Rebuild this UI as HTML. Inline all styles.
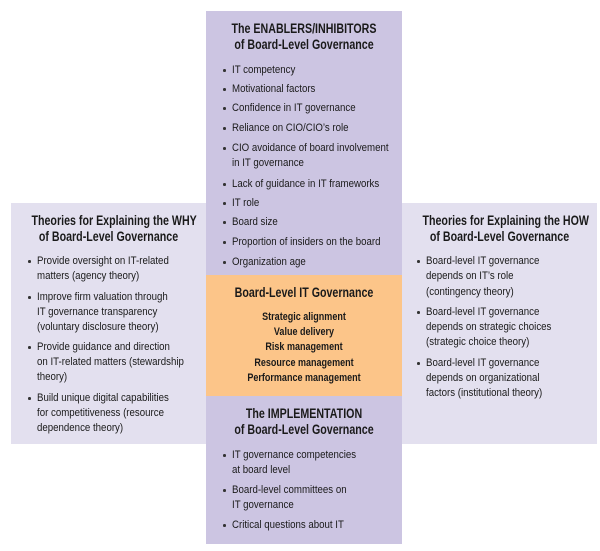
<!DOCTYPE html>
<html><head><meta charset="utf-8"><style>
body{margin:0;width:600px;height:551px;background:#fff;position:relative;overflow:hidden;font-family:"Liberation Sans",sans-serif;color:#1a1a1a}
.b{position:absolute}
.t{position:absolute;white-space:nowrap;font-size:11px;line-height:14px;transform:scaleX(0.88);transform-origin:0 50%}
.c{position:absolute;white-space:nowrap;text-align:center;transform:scaleX(0.82);transform-origin:50% 50%;font-weight:bold}
.h{font-size:13.5px;line-height:16px;transform:scaleX(0.79)}
.o{font-size:11px;line-height:14px}
.d{position:absolute;width:2.5px;height:2.5px;background:#333;border-radius:50%}
</style></head><body>
<div class="b" style="left:206px;top:11px;width:196px;height:265px;background:#ccc5e2"></div>
<div class="b" style="left:206px;top:275px;width:196px;height:121px;background:#fcc589"></div>
<div class="b" style="left:206px;top:396px;width:196px;height:148px;background:#ccc5e2"></div>
<div class="b" style="left:11px;top:203px;width:195px;height:241px;background:#e3e0ef"></div>
<div class="b" style="left:402px;top:203px;width:195px;height:241px;background:#e3e0ef"></div>

<div class="c h" style="left:206px;width:196px;top:21px">The ENABLERS/INHIBITORS</div>
<div class="c h" style="left:206px;width:196px;top:37px">of Board-Level Governance</div>

<div class="c h" style="left:206px;width:196px;top:285px">Board-Level IT Governance</div>
<div class="c o" style="left:206px;width:196px;top:310px">Strategic alignment</div>
<div class="c o" style="left:206px;width:196px;top:325px">Value delivery</div>
<div class="c o" style="left:206px;width:196px;top:340px">Risk management</div>
<div class="c o" style="left:206px;width:196px;top:356px">Resource management</div>
<div class="c o" style="left:206px;width:196px;top:371px">Performance management</div>

<div class="c h" style="left:206px;width:196px;top:406px">The IMPLEMENTATION</div>
<div class="c h" style="left:206px;width:196px;top:422px">of Board-Level Governance</div>

<div class="c h" style="left:11px;width:195px;top:213px">Theories for Explaining the WHY</div>
<div class="c h" style="left:11px;width:195px;top:229px">of Board-Level Governance</div>
<div class="c h" style="left:402px;width:195px;top:213px">Theories for Explaining the HOW</div>
<div class="c h" style="left:402px;width:195px;top:229px">of Board-Level Governance</div>

<div class="d" style="left:223px;top:69px"></div><div class="t" style="left:232px;top:63px">IT competency</div>
<div class="d" style="left:223px;top:88px"></div><div class="t" style="left:232px;top:82px">Motivational factors</div>
<div class="d" style="left:223px;top:107px"></div><div class="t" style="left:232px;top:101px">Confidence in IT governance</div>
<div class="d" style="left:223px;top:127px"></div><div class="t" style="left:232px;top:121px">Reliance on CIO/CIO’s role</div>
<div class="d" style="left:223px;top:147px"></div><div class="t" style="left:232px;top:141px">CIO avoidance of board involvement</div>
<div class="t" style="left:232px;top:156px">in IT governance</div>
<div class="d" style="left:223px;top:183px"></div><div class="t" style="left:232px;top:177px">Lack of guidance in IT frameworks</div>
<div class="d" style="left:223px;top:202px"></div><div class="t" style="left:232px;top:196px">IT role</div>
<div class="d" style="left:223px;top:221px"></div><div class="t" style="left:232px;top:215px">Board size</div>
<div class="d" style="left:223px;top:241px"></div><div class="t" style="left:232px;top:235px">Proportion of insiders on the board</div>
<div class="d" style="left:223px;top:261px"></div><div class="t" style="left:232px;top:255px">Organization age</div>

<div class="d" style="left:223px;top:454px"></div><div class="t" style="left:232px;top:448px">IT governance competencies</div>
<div class="t" style="left:232px;top:463px">at board level</div>
<div class="d" style="left:223px;top:489px"></div><div class="t" style="left:232px;top:483px">Board-level committees on</div>
<div class="t" style="left:232px;top:498px">IT governance</div>
<div class="d" style="left:223px;top:524px"></div><div class="t" style="left:232px;top:518px">Critical questions about IT</div>

<div class="d" style="left:28px;top:260px"></div><div class="t" style="left:37px;top:254px">Provide oversight on IT-related</div>
<div class="t" style="left:37px;top:269px">matters (agency theory)</div>
<div class="d" style="left:28px;top:296px"></div><div class="t" style="left:37px;top:290px">Improve firm valuation through</div>
<div class="t" style="left:37px;top:305px">IT governance transparency</div>
<div class="t" style="left:37px;top:320px">(voluntary disclosure theory)</div>
<div class="d" style="left:28px;top:346px"></div><div class="t" style="left:37px;top:340px">Provide guidance and direction</div>
<div class="t" style="left:37px;top:355px">on IT-related matters (stewardship</div>
<div class="t" style="left:37px;top:370px">theory)</div>
<div class="d" style="left:28px;top:397px"></div><div class="t" style="left:37px;top:391px">Build unique digital capabilities</div>
<div class="t" style="left:37px;top:406px">for competitiveness (resource</div>
<div class="t" style="left:37px;top:421px">dependence theory)</div>

<div class="d" style="left:417px;top:260px"></div><div class="t" style="left:426px;top:254px">Board-level IT governance</div>
<div class="t" style="left:426px;top:269px">depends on IT’s role</div>
<div class="t" style="left:426px;top:285px">(contingency theory)</div>
<div class="d" style="left:417px;top:311px"></div><div class="t" style="left:426px;top:305px">Board-level IT governance</div>
<div class="t" style="left:426px;top:320px">depends on strategic choices</div>
<div class="t" style="left:426px;top:335px">(strategic choice theory)</div>
<div class="d" style="left:417px;top:362px"></div><div class="t" style="left:426px;top:356px">Board-level IT governance</div>
<div class="t" style="left:426px;top:371px">depends on organizational</div>
<div class="t" style="left:426px;top:386px">factors (institutional theory)</div>
</body></html>
